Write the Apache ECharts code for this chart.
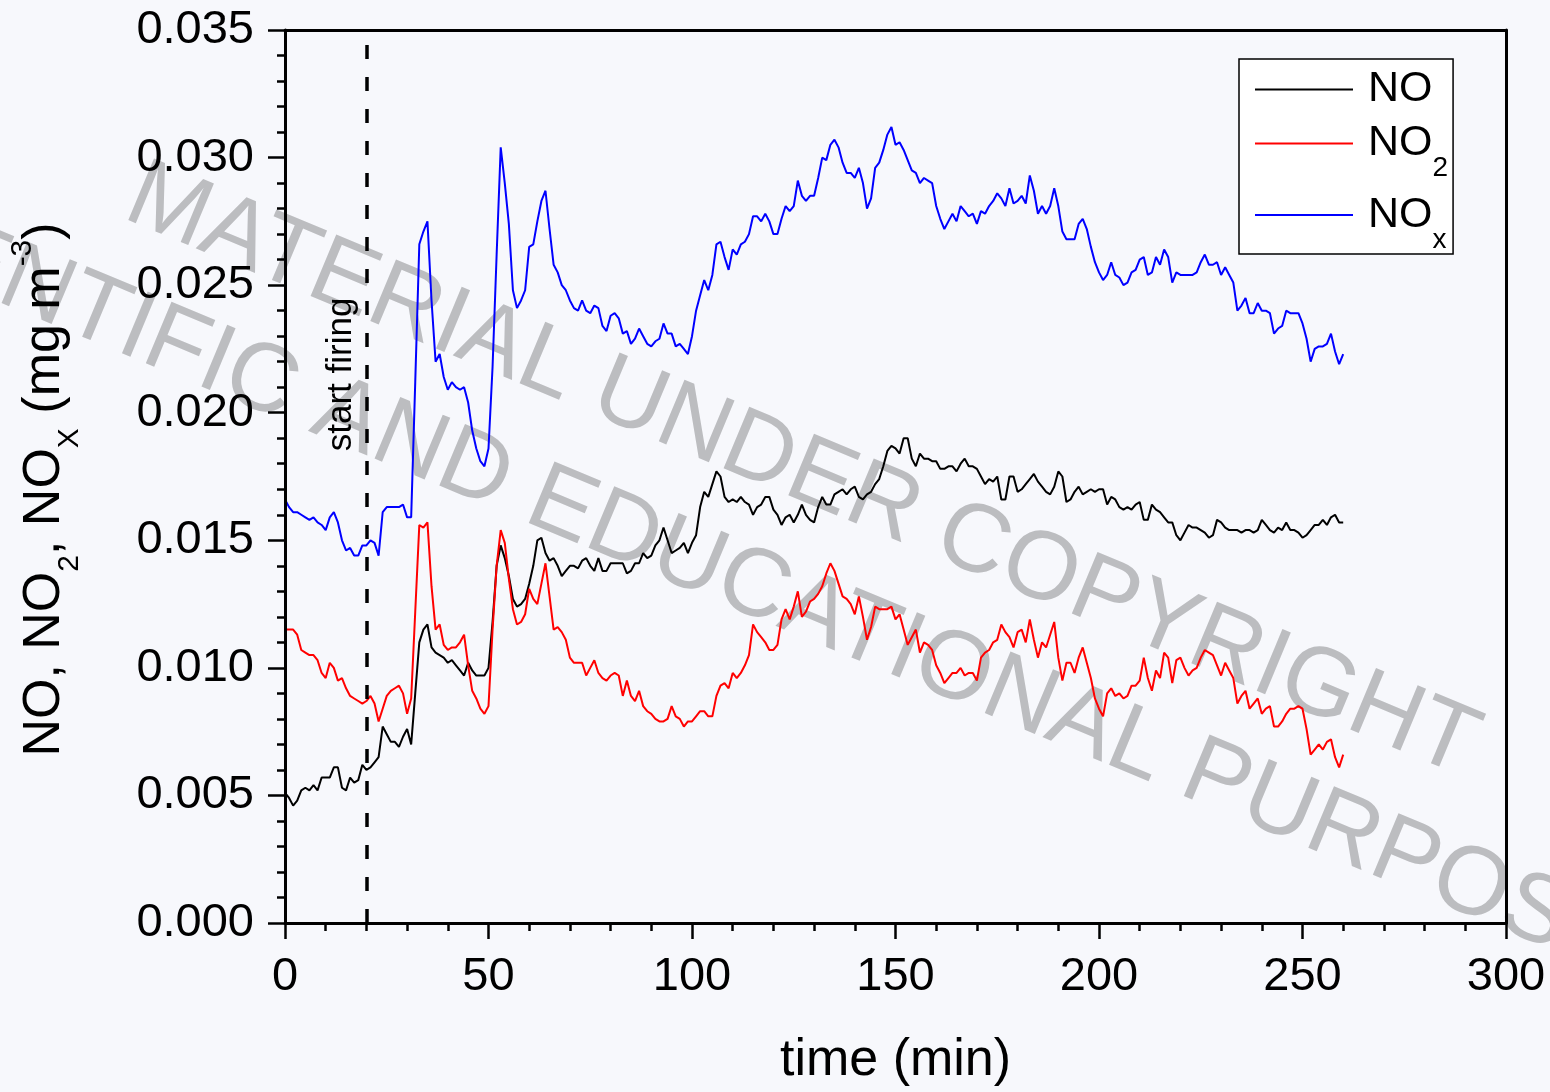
<!DOCTYPE html>
<html>
<head>
<meta charset="utf-8">
<script src="https://cdn.jsdelivr.net/npm/echarts@6/dist/echarts.min.js"></script>
<style>
html,body{margin:0;padding:0;background:#f7f8fc;}
#c{width:1550px;height:1092px;}
</style>
</head>
<body>
<div id="c"></div>
<script>
// sampling interval of the measurements (minutes)
const SAMPLE_MIN = 1;

// NO concentration (mg m-3), one value per minute from t = 0 to 260
const NO = [
0.0051,0.0049,0.0046,0.0048,0.0052,0.0053,0.0052,0.0054,0.0052,0.0057,
0.0057,0.0057,0.0061,0.0061,0.0053,0.0052,0.0057,0.0055,0.0056,0.0062,
0.0060,0.0061,0.0063,0.0065,0.0077,0.0074,0.0071,0.0071,0.0069,0.0073,
0.0076,0.0070,0.0090,0.0110,0.0115,0.0117,0.0108,0.0106,0.0105,0.0104,
0.0102,0.0103,0.0101,0.0099,0.0097,0.0102,0.0099,0.0097,0.0097,0.0097,
0.0100,0.0118,0.0140,0.0148,0.0143,0.0136,0.0127,0.0124,0.0125,0.0127,
0.0133,0.0140,0.0150,0.0151,0.0145,0.0142,0.0143,0.0140,0.0136,0.0138,
0.0140,0.0140,0.0139,0.0142,0.0143,0.0140,0.0138,0.0143,0.0138,0.0138,
0.0141,0.0141,0.0141,0.0141,0.0137,0.0138,0.0141,0.0141,0.0145,0.0143,
0.0144,0.0148,0.0150,0.0155,0.0150,0.0145,0.0146,0.0147,0.0149,0.0145,
0.0149,0.0152,0.0163,0.0169,0.0167,0.0172,0.0177,0.0175,0.0167,0.0165,
0.0166,0.0165,0.0167,0.0165,0.0164,0.0160,0.0163,0.0164,0.0167,0.0167,
0.0162,0.0160,0.0156,0.0159,0.0160,0.0157,0.0160,0.0164,0.0160,0.0158,
0.0157,0.0163,0.0167,0.0164,0.0164,0.0168,0.0169,0.0170,0.0168,0.0170,
0.0171,0.0167,0.0166,0.0168,0.0169,0.0172,0.0174,0.0179,0.0185,0.0187,
0.0186,0.0184,0.0190,0.0190,0.0182,0.0179,0.0184,0.0182,0.0182,0.0181,
0.0181,0.0178,0.0178,0.0179,0.0179,0.0177,0.0180,0.0182,0.0179,0.0179,
0.0178,0.0175,0.0172,0.0174,0.0173,0.0175,0.0166,0.0166,0.0175,0.0175,
0.0169,0.0170,0.0172,0.0174,0.0176,0.0173,0.0171,0.0169,0.0168,0.0171,
0.0177,0.0175,0.0165,0.0166,0.0169,0.0171,0.0168,0.0169,0.0170,0.0169,
0.0170,0.0170,0.0164,0.0167,0.0166,0.0163,0.0162,0.0163,0.0162,0.0164,
0.0165,0.0158,0.0158,0.0164,0.0162,0.0161,0.0159,0.0157,0.0157,0.0152,
0.0150,0.0153,0.0156,0.0155,0.0155,0.0154,0.0153,0.0151,0.0152,0.0158,
0.0157,0.0155,0.0154,0.0154,0.0154,0.0153,0.0154,0.0154,0.0153,0.0154,
0.0158,0.0156,0.0154,0.0153,0.0155,0.0154,0.0157,0.0154,0.0154,0.0153,
0.0151,0.0152,0.0154,0.0156,0.0156,0.0158,0.0156,0.0159,0.0160,0.0157,
0.0157
];

// NO2 concentration (mg m-3)
const NO2 = [
0.0115,0.0115,0.0115,0.0113,0.0107,0.0106,0.0105,0.0105,0.0103,0.0098,
0.0096,0.0102,0.0100,0.0095,0.0096,0.0092,0.0089,0.0088,0.0087,0.0086,
0.0087,0.0089,0.0086,0.0079,0.0084,0.0089,0.0091,0.0092,0.0093,0.0090,
0.0082,0.0088,0.0122,0.0156,0.0155,0.0157,0.0132,0.0115,0.0117,0.0109,
0.0107,0.0108,0.0108,0.0110,0.0113,0.0101,0.0091,0.0088,0.0084,0.0082,
0.0085,0.0115,0.0140,0.0154,0.0149,0.0135,0.0123,0.0117,0.0118,0.0121,
0.0131,0.0127,0.0125,0.0133,0.0141,0.0128,0.0115,0.0116,0.0114,0.0111,
0.0104,0.0102,0.0102,0.0102,0.0097,0.0100,0.0103,0.0098,0.0096,0.0095,
0.0097,0.0098,0.0097,0.0089,0.0095,0.0089,0.0087,0.0091,0.0085,0.0083,
0.0082,0.0080,0.0079,0.0079,0.0080,0.0085,0.0081,0.0080,0.0077,0.0079,
0.0079,0.0081,0.0083,0.0083,0.0081,0.0081,0.0089,0.0093,0.0094,0.0092,
0.0098,0.0096,0.0098,0.0101,0.0105,0.0117,0.0114,0.0112,0.0110,0.0107,
0.0107,0.0109,0.0119,0.0123,0.0119,0.0124,0.0130,0.0120,0.0122,0.0126,
0.0127,0.0129,0.0132,0.0137,0.0141,0.0138,0.0133,0.0128,0.0127,0.0125,
0.0121,0.0128,0.0120,0.0111,0.0116,0.0124,0.0123,0.0123,0.0123,0.0124,
0.0119,0.0121,0.0115,0.0109,0.0112,0.0115,0.0106,0.0110,0.0109,0.0107,
0.0101,0.0098,0.0094,0.0096,0.0098,0.0098,0.0100,0.0097,0.0098,0.0098,
0.0095,0.0104,0.0106,0.0107,0.0110,0.0111,0.0117,0.0114,0.0112,0.0108,
0.0114,0.0115,0.0110,0.0119,0.0111,0.0104,0.0110,0.0108,0.0113,0.0118,
0.0104,0.0095,0.0102,0.0102,0.0098,0.0104,0.0108,0.0102,0.0096,0.0088,
0.0084,0.0081,0.0090,0.0092,0.0089,0.0090,0.0088,0.0089,0.0093,0.0093,
0.0095,0.0104,0.0096,0.0091,0.0099,0.0096,0.0106,0.0104,0.0094,0.0103,
0.0104,0.0100,0.0097,0.0099,0.0100,0.0104,0.0107,0.0106,0.0105,0.0101,
0.0097,0.0102,0.0099,0.0096,0.0086,0.0089,0.0091,0.0084,0.0086,0.0088,
0.0082,0.0084,0.0085,0.0077,0.0077,0.0079,0.0082,0.0084,0.0084,0.0085,
0.0084,0.0076,0.0066,0.0068,0.0070,0.0068,0.0071,0.0072,0.0065,0.0061,
0.0066
];

// NOx concentration (mg m-3)
const NOX = [
0.0166,0.0163,0.0161,0.0161,0.0160,0.0159,0.0158,0.0159,0.0157,0.0156,
0.0154,0.0159,0.0161,0.0157,0.0150,0.0146,0.0147,0.0144,0.0144,0.0148,
0.0148,0.0150,0.0149,0.0144,0.0161,0.0163,0.0163,0.0163,0.0163,0.0164,
0.0159,0.0159,0.0212,0.0266,0.0271,0.0275,0.0244,0.0220,0.0223,0.0214,
0.0209,0.0212,0.0210,0.0209,0.0210,0.0204,0.0193,0.0186,0.0181,0.0179,
0.0186,0.0218,0.0262,0.0304,0.0290,0.0274,0.0248,0.0241,0.0244,0.0248,
0.0265,0.0266,0.0275,0.0283,0.0287,0.0272,0.0258,0.0255,0.0250,0.0248,
0.0244,0.0241,0.0240,0.0244,0.0240,0.0239,0.0242,0.0241,0.0234,0.0232,
0.0238,0.0239,0.0237,0.0231,0.0232,0.0227,0.0229,0.0233,0.0230,0.0227,
0.0226,0.0228,0.0229,0.0235,0.0231,0.0231,0.0226,0.0227,0.0225,0.0223,
0.0230,0.0240,0.0246,0.0252,0.0248,0.0254,0.0266,0.0267,0.0261,0.0256,
0.0264,0.0262,0.0266,0.0267,0.0270,0.0277,0.0277,0.0275,0.0278,0.0275,
0.0270,0.0270,0.0276,0.0281,0.0279,0.0281,0.0291,0.0285,0.0283,0.0285,
0.0285,0.0292,0.0300,0.0299,0.0305,0.0307,0.0304,0.0298,0.0294,0.0294,
0.0292,0.0296,0.0290,0.0280,0.0284,0.0296,0.0298,0.0303,0.0309,0.0312,
0.0305,0.0306,0.0303,0.0299,0.0295,0.0294,0.0290,0.0292,0.0291,0.0290,
0.0281,0.0276,0.0272,0.0275,0.0278,0.0275,0.0281,0.0279,0.0277,0.0278,
0.0274,0.0279,0.0278,0.0281,0.0283,0.0286,0.0284,0.0281,0.0288,0.0282,
0.0283,0.0285,0.0282,0.0293,0.0287,0.0278,0.0281,0.0278,0.0281,0.0288,
0.0281,0.0271,0.0268,0.0268,0.0268,0.0274,0.0276,0.0272,0.0265,0.0259,
0.0255,0.0252,0.0254,0.0259,0.0254,0.0253,0.0250,0.0251,0.0255,0.0256,
0.0260,0.0261,0.0254,0.0255,0.0261,0.0258,0.0264,0.0261,0.0251,0.0255,
0.0254,0.0254,0.0254,0.0254,0.0255,0.0259,0.0262,0.0258,0.0258,0.0259,
0.0254,0.0257,0.0254,0.0251,0.0240,0.0242,0.0245,0.0239,0.0239,0.0243,
0.0240,0.0240,0.0239,0.0231,0.0233,0.0234,0.0240,0.0239,0.0239,0.0239,
0.0235,0.0229,0.0220,0.0225,0.0226,0.0226,0.0227,0.0231,0.0224,0.0219,
0.0223
];

// measurement times (min)
const TIMES = NO.map((_, i) => i * SAMPLE_MIN);

// event marker
const FIRING_START = 20;
const FIRING_LABEL = 'start firing';
const FIRING_LABEL_AT = [13.8, 0.0215];

// axis ranges / tick steps
const X_MIN = 0, X_MAX = 300, X_STEP = 50;
const Y_MIN = 0, Y_MAX = 0.035, Y_STEP = 0.005;

// series names and legend labels
const SERIES_NAMES = ['NO', 'NO2', 'NOx'];
const LEGEND_LABELS = { 'NO': '{n|NO}', 'NO2': '{n|NO}{s|2}', 'NOx': '{n|NO}{s|x}' };
const WATERMARK = ['MATERIAL UNDER COPYRIGHT', 'SCIENTIFIC AND EDUCATIONAL PURPOSES'];

const FONT = '"Liberation Sans", Arial, Helvetica, sans-serif';
const pairs = arr => arr.map((v, i) => [TIMES[i], v]);

const chart = echarts.init(document.getElementById('c'), null, { renderer: 'canvas' });

const wmStyle = (txt) => ({
  text: txt,
  font: '97px "Liberation Sans", Arial, sans-serif',
  fill: '#bcbdc0',
  align: 'center', verticalAlign: 'middle',
  textAlign: 'center', textVerticalAlign: 'middle'
});
const watermarks = () => [
  { type: 'text', x: 802, y: 472, rotation: -0.395, z: 1, silent: true, style: wmStyle(WATERMARK[0]) },
  { type: 'text', x: 740, y: 582, rotation: -0.395, z: 1, silent: true, style: wmStyle(WATERMARK[1]) }
];

const option = {
  backgroundColor: '#f7f8fc',
  animation: false,
  textStyle: { fontFamily: FONT },
  grid: { left: 285, right: 44, top: 30, bottom: 165 },
  xAxis: [{
    type: 'value', min: X_MIN, max: X_MAX, interval: X_STEP, position: 'bottom', z: 5,
    axisLine: { show: true, onZero: false, lineStyle: { color: '#000', width: 3 } },
    axisTick: { show: true, inside: false, length: 16, lineStyle: { color: '#000', width: 2.5 } },
    minorTick: { show: true, splitNumber: 5, length: 8, lineStyle: { color: '#000', width: 2.5 } },
    splitLine: { show: false },
    axisLabel: { color: '#000', fontSize: 47, margin: 31, fontFamily: FONT },
    name: 'time (min)', nameLocation: 'middle', nameGap: 112,
    nameTextStyle: { color: '#000', fontSize: 52, fontFamily: FONT }
  }, {
    type: 'value', min: X_MIN, max: X_MAX, interval: X_STEP, position: 'top', z: 5,
    axisLine: { show: true, onZero: false, lineStyle: { color: '#000', width: 3 } },
    axisTick: { show: false }, axisLabel: { show: false }, splitLine: { show: false }
  }],
  yAxis: [{
    type: 'value', min: Y_MIN, max: Y_MAX, interval: Y_STEP, position: 'left', z: 5,
    axisLine: { show: true, onZero: false, lineStyle: { color: '#000', width: 3 } },
    axisTick: { show: true, inside: false, length: 17, lineStyle: { color: '#000', width: 2.5 } },
    minorTick: { show: true, splitNumber: 5, length: 8, lineStyle: { color: '#000', width: 2.5 } },
    splitLine: { show: false },
    axisLabel: { color: '#000', fontSize: 47, margin: 31, fontFamily: FONT, formatter: v => v.toFixed(3) },
    name: '{a|NO, NO}{s|2}{a|, NO}{s|X}{a| (mg m}{p|-3}{a|)}',
    nameLocation: 'middle', nameRotate: 90, nameGap: 200,
    nameTextStyle: {
      padding: [0, 26, 0, 0],
      rich: {
        a: { fontSize: 52, color: '#000', fontFamily: FONT },
        s: { fontSize: 30, color: '#000', fontFamily: FONT, padding: [50, 0, 0, 0] },
        p: { fontSize: 30, color: '#000', fontFamily: FONT, padding: [0, 0, 44, 0] }
      }
    }
  }, {
    type: 'value', min: Y_MIN, max: Y_MAX, interval: Y_STEP, position: 'right', z: 5,
    axisLine: { show: true, onZero: false, lineStyle: { color: '#000', width: 3 } },
    axisTick: { show: false }, axisLabel: { show: false }, splitLine: { show: false }
  }],
  legend: {
    orient: 'vertical', left: 1239, top: 59,
    padding: [9, 5, 0, 16], itemGap: 11,
    itemWidth: 98, itemHeight: 2, icon: 'rect',
    backgroundColor: '#ffffff', borderColor: '#000', borderWidth: 1.5, borderRadius: 0,
    data: SERIES_NAMES,
    formatter: name => LEGEND_LABELS[name],
    textStyle: {
      color: '#000', fontSize: 43, fontFamily: FONT,
      rich: {
        n: { fontSize: 43, color: '#000', fontFamily: FONT, padding: [0, 0, 0, 10] },
        s: { fontSize: 28, color: '#000', fontFamily: FONT, padding: [50, 0, 0, 0] }
      }
    }
  },
  graphic: watermarks(),
  series: [
    {
      name: SERIES_NAMES[0], type: 'line', data: pairs(NO), symbol: 'none', showSymbol: false, z: 2,
      lineStyle: { color: '#000000', width: 2 }, itemStyle: { color: '#000000' },
      markLine: {
        silent: true, symbol: ['none', 'none'], animation: false,
        label: { show: false },
        lineStyle: { color: '#000', type: [14, 18], width: 3.5 },
        data: [{ xAxis: FIRING_START }]
      }
    },
    {
      name: SERIES_NAMES[1], type: 'line', data: pairs(NO2), symbol: 'none', showSymbol: false, z: 2,
      lineStyle: { color: '#ff0000', width: 2 }, itemStyle: { color: '#ff0000' }
    },
    {
      name: SERIES_NAMES[2], type: 'line', data: pairs(NOX), symbol: 'none', showSymbol: false, z: 2,
      lineStyle: { color: '#0000ff', width: 2 }, itemStyle: { color: '#0000ff' }
    }
  ]
};

chart.setOption(option);

// annotation placed through the chart's own coordinate system
const p = chart.convertToPixel({ gridIndex: 0 }, FIRING_LABEL_AT);
chart.setOption({
  graphic: watermarks().concat([{
    type: 'text', x: p[0], y: p[1], rotation: Math.PI / 2, z: 6, silent: true,
    style: {
      text: FIRING_LABEL, font: '35px "Liberation Sans", Arial, sans-serif', fill: '#000',
      align: 'center', verticalAlign: 'middle', textAlign: 'center', textVerticalAlign: 'middle'
    }
  }])
});
</script>
</body>
</html>
